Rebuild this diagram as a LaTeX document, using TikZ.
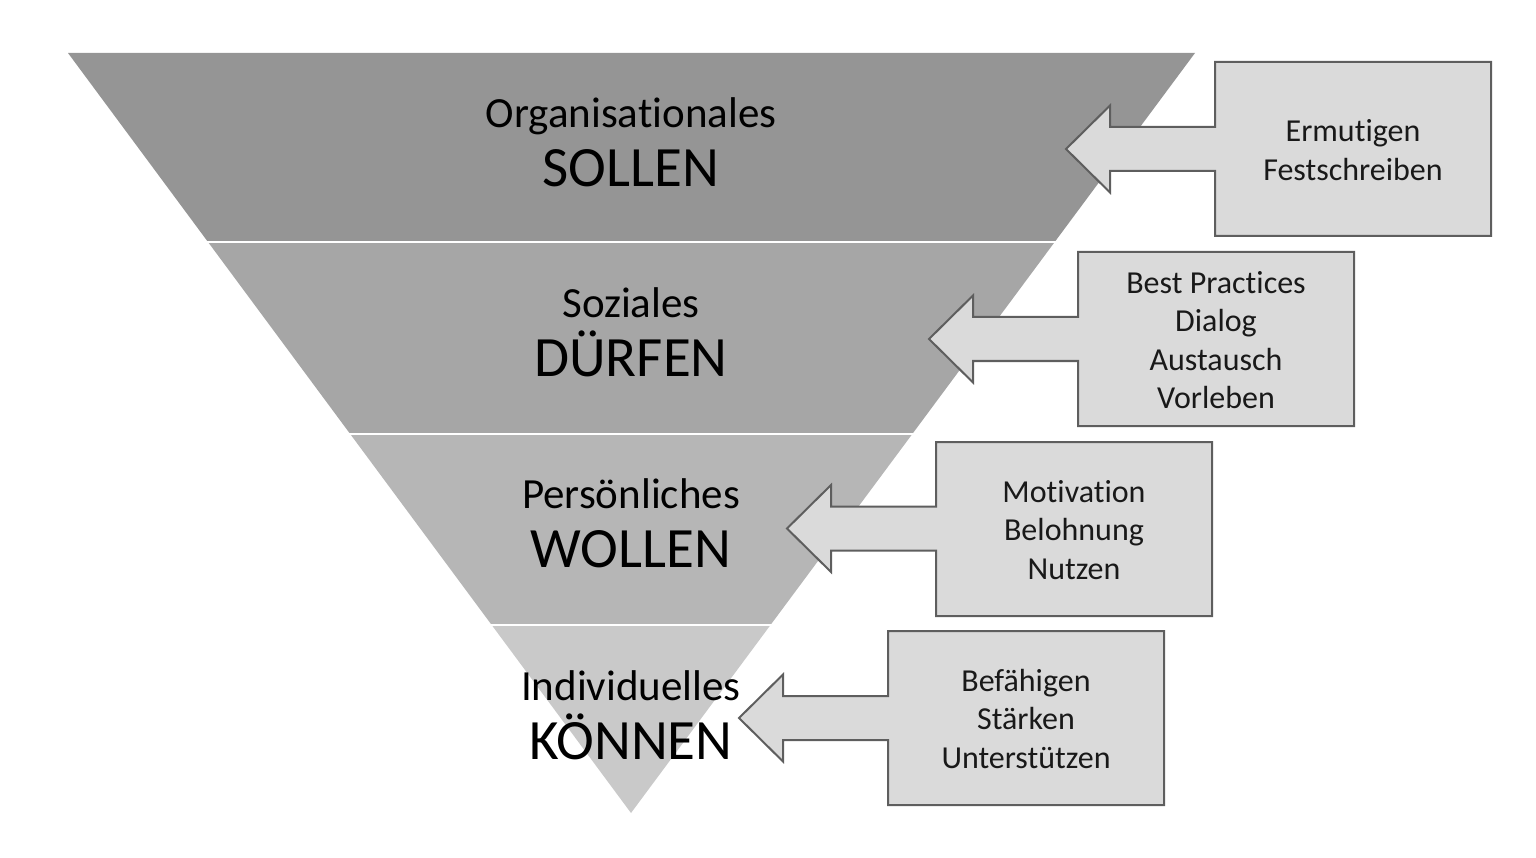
\documentclass[tikz,border=0pt]{standalone}
\usepackage{fontspec}
\setmainfont{Carlito}[Ligatures={NoCommon}]
\definecolor{bandA}{HTML}{959595}
\definecolor{bandB}{HTML}{A6A6A6}
\definecolor{bandC}{HTML}{B6B6B6}
\definecolor{bandD}{HTML}{C9C9C9}
\definecolor{boxfill}{HTML}{DADADA}
\definecolor{boxline}{HTML}{5E5E5E}
\tikzset{
  band/.style={draw=none},
  sep/.style={draw=white, line width=2.5pt},
  smalllbl/.style={anchor=base, inner sep=0pt, font=\fontsize{43}{51}\selectfont, text=black},
  biglbl/.style={anchor=base, inner sep=0pt, font=\fontsize{57}{67}\selectfont, text=black},
  callout/.style={fill=boxfill, draw=boxline, line width=2pt, line join=miter},
  boxtext/.style={align=center, inner sep=0pt, font=\fontsize{32}{38.5}\selectfont, text=black!90}
}
\begin{document}
\begin{tikzpicture}[x=1pt,y=-1pt]
\useasboundingbox (0,0) rectangle (1536,858);
% bands
\fill[bandA] (68,53) -- (1195,53) -- (1054.7,242) -- (208,242) -- cycle;
\fill[bandB] (208,242) -- (1054.7,242) -- (912.3,434) -- (350.2,434) -- cycle;
\fill[bandC] (350.2,434) -- (912.3,434) -- (770.5,625) -- (491.7,625) -- cycle;
\fill[bandD] (491.7,625) -- (770.5,625) -- (631,813) -- cycle;
\coordinate (s1l) at (206,242); \coordinate (s1r) at (1056,242);
\coordinate (s2l) at (348,434); \coordinate (s2r) at (914,434);
\coordinate (s3l) at (490,625); \coordinate (s3r) at (772,625);
\draw[sep] (s1l) -- (s1r);
\draw[sep] (s2l) -- (s2r);
\draw[sep] (s3l) -- (s3r);
% labels
\node[smalllbl] (l1a) at (631,128) {Organisationales};
\node[biglbl] (l1b) at (631,187) {SOLLEN};
\node[smalllbl] (l2a) at (631,318) {Soziales};
\node[biglbl] (l2b) at (631,377) {DÜRFEN};
\node[smalllbl] (l3a) at (631,508) {Persönliches};
\node[biglbl] (l3b) at (631,567) {WOLLEN};
\node[smalllbl] (l4a) at (631,700) {Individuelles};
\node[biglbl] (l4b) at (631,759) {KÖNNEN};
% callouts
\newcommand{\mycallout}[6]{% name, L, T, yc, text
  \pgfmathsetmacro{\R}{#2+276}\pgfmathsetmacro{\B}{#3+174}
  \pgfmathsetmacro{\tip}{#2-149}\pgfmathsetmacro{\hb}{#2-105}
  \draw[callout] (#2,#3) -- (\R,#3) -- (\R,\B) -- (#2,\B) -- (#2,#4+22) -- (\hb,#4+22) -- (\hb,#4+43.5) -- (\tip,#4) -- (\hb,#4-43.5) -- (\hb,#4-22) -- (#2,#4-22) -- cycle;
  \node[boxtext] (#1) at (#2+138,#3+87+#6) {#5};
}
\mycallout{c1}{1215}{62}{149}{Ermutigen\\Festschreiben}{1}
\mycallout{c2}{1078}{252}{339}{Best Practices\\Dialog\\Austausch\\Vorleben}{1}
\mycallout{c3}{936}{442}{528.5}{Motivation\\Belohnung\\Nutzen}{1}
\mycallout{c4}{888}{631}{718}{Befähigen\\Stärken\\Unterstützen}{1}
\end{tikzpicture}
\end{document}
